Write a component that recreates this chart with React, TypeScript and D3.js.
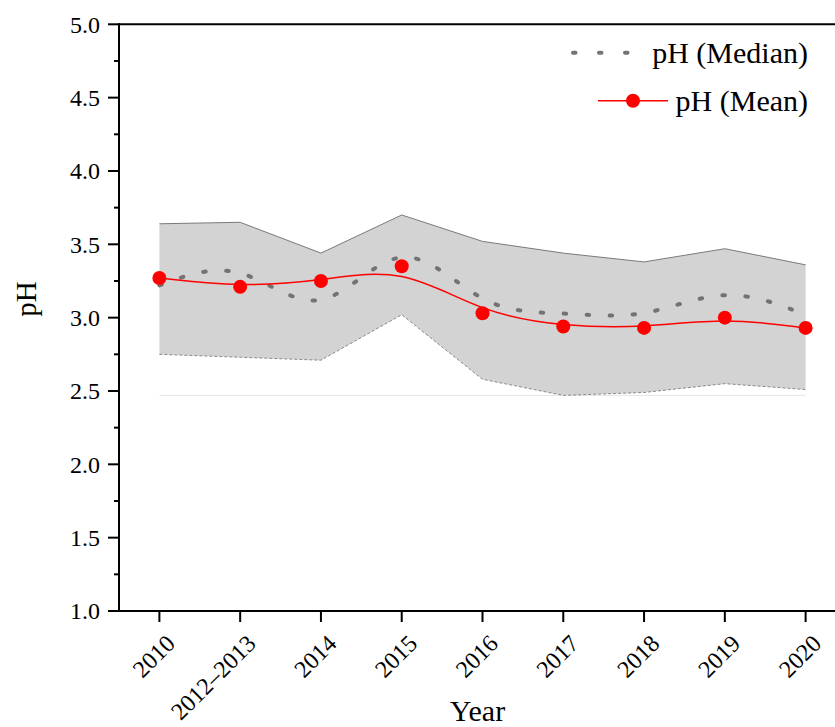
import React from "react";
import * as d3 from "d3";

// Sampling periods on the x axis
const years = ["2010", "2012–2013", "2014", "2015", "2016", "2017", "2018", "2019", "2020"];
// Mean pH per period (red markers, B-spline line)
const meanPH = [3.27, 3.21, 3.25, 3.35, 3.03, 2.94, 2.93, 3.0, 2.93];
// Median pH per period (dotted B-spline line)
const medianPH = [3.22, 3.42, 2.92, 3.63, 3.03, 3.04, 2.98, 3.23, 3.02];
// Upper and lower limits of the shaded range
const upperPH = [3.64, 3.65, 3.44, 3.7, 3.52, 3.44, 3.38, 3.47, 3.36];
const lowerPH = [2.75, 2.73, 2.71, 3.02, 2.58, 2.47, 2.49, 2.55, 2.51];
// Axis ticks
const yMajorTicks = [1.0, 1.5, 2.0, 2.5, 3.0, 3.5, 4.0, 4.5, 5.0];
const yMinorTicks = [1.25, 1.75, 2.25, 2.75, 3.25, 3.75, 4.25, 4.75];

const W = 835;
const H = 727;
const FONT = "'Liberation Serif', 'Times New Roman', serif";

export default function App() {
  const left = 119;
  const right = 846;
  const top = 24.3;
  const bottom = 611;

  const x = d3.scalePoint<string>().domain(years).range([left, right]).padding(0.5);
  const y = d3.scaleLinear().domain([1, 5]).range([bottom, top]);

  const rows = years.map((yr, i) => ({
    yr,
    mean: meanPH[i],
    median: medianPH[i],
    hi: upperPH[i],
    lo: lowerPH[i],
  }));

  const band = d3
    .area<(typeof rows)[number]>()
    .x((d) => x(d.yr)!)
    .y0((d) => y(d.lo))
    .y1((d) => y(d.hi))(rows)!;
  const upperLine = d3
    .line<(typeof rows)[number]>()
    .x((d) => x(d.yr)!)
    .y((d) => y(d.hi))(rows)!;
  const lowerLine = d3
    .line<(typeof rows)[number]>()
    .x((d) => x(d.yr)!)
    .y((d) => y(d.lo))(rows)!;
  const meanLine = d3
    .line<(typeof rows)[number]>()
    .curve(d3.curveBasis)
    .x((d) => x(d.yr)!)
    .y((d) => y(d.mean))(rows)!;
  const medianLine = d3
    .line<(typeof rows)[number]>()
    .curve(d3.curveBasis)
    .x((d) => x(d.yr)!)
    .y((d) => y(d.median))(rows)!;

  const baseVal = d3.min(lowerPH)!;
  const xFirst = x(years[0])!;
  const xLast = x(years[years.length - 1])!;

  return (
    <div style={{ position: "absolute", left: 0, top: 0 }}>
      <svg width={W} height={H} style={{ display: "block", fontFamily: FONT }}>
        <rect width={W} height={H} fill="#ffffff" />

        {/* shaded range */}
        <path d={band} fill="#d3d3d3" stroke="none" />
        <line x1={xFirst} x2={xLast} y1={y(baseVal)} y2={y(baseVal)} stroke="#e4e4e4" strokeWidth={1} />
        <path d={upperLine} fill="none" stroke="#7a7a7a" strokeWidth={1} />
        <path d={lowerLine} fill="none" stroke="#8a8a8a" strokeWidth={1} strokeDasharray="3 2" />

        {/* median */}
        <path
          d={medianLine}
          fill="none"
          stroke="#737373"
          strokeWidth={4}
          strokeLinecap="round"
          strokeDasharray="2.5 20.5"
        />

        {/* mean */}
        <path d={meanLine} fill="none" stroke="#ff0000" strokeWidth={1.5} />
        {rows.map((d) => (
          <circle key={d.yr} cx={x(d.yr)} cy={y(d.mean)} r={7} fill="#ff0000" />
        ))}

        {/* axes frame */}
        <line x1={left} x2={W + 20} y1={top} y2={top} stroke="#000" strokeWidth={2} />
        <line x1={left} x2={W + 20} y1={bottom} y2={bottom} stroke="#000" strokeWidth={2} />
        <line x1={left} x2={left} y1={top - 1} y2={bottom + 1} stroke="#000" strokeWidth={2} />

        {/* y ticks */}
        {yMajorTicks.map((t) => (
          <g key={"M" + t}>
            <line x1={left - 11} x2={left} y1={y(t)} y2={y(t)} stroke="#000" strokeWidth={2} />
            <text x={100} y={y(t)} dy="0.35em" textAnchor="end" fontSize={24} fill="#000">
              {d3.format(".1f")(t)}
            </text>
          </g>
        ))}
        {yMinorTicks.map((t) => (
          <line key={"m" + t} x1={left - 5} x2={left} y1={y(t)} y2={y(t)} stroke="#000" strokeWidth={2} />
        ))}

        {/* x ticks */}
        {years.map((yr) => (
          <g key={"x" + yr}>
            <line x1={x(yr)} x2={x(yr)} y1={bottom} y2={bottom + 11} stroke="#000" strokeWidth={2} />
            <text
              transform={`translate(${x(yr)! + 17},${645}) rotate(-45)`}
              textAnchor="end"
              fontSize={24}
              fill="#000"
            >
              {yr}
            </text>
          </g>
        ))}

        {/* axis titles */}
        <text x={477.5} y={721} textAnchor="middle" fontSize={30} fill="#000">
          Year
        </text>
        <text transform="translate(36,299) rotate(-90)" textAnchor="middle" fontSize={29} fill="#000">
          pH
        </text>

        {/* legend */}
        <line
          x1={573}
          x2={630}
          y1={52.7}
          y2={52.7}
          stroke="#737373"
          strokeWidth={4}
          strokeLinecap="round"
          strokeDasharray="2.5 23.5"
        />
        <text x={808} y={63.3} textAnchor="end" fontSize={30} fill="#000">
          pH (Median)
        </text>
        <line x1={598} x2={668} y1={100.7} y2={100.7} stroke="#ff0000" strokeWidth={1.5} />
        <circle cx={633} cy={100.7} r={7} fill="#ff0000" />
        <text x={808} y={110.7} textAnchor="end" fontSize={30} fill="#000">
          pH (Mean)
        </text>
      </svg>
    </div>
  );
}
